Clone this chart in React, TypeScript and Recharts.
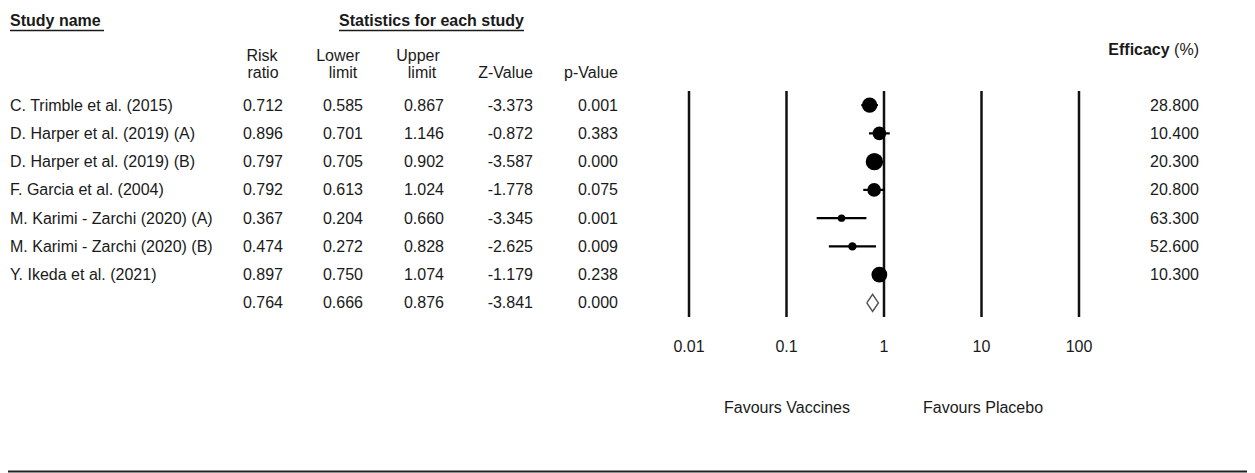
import { ScatterChart, Scatter, XAxis, YAxis, ZAxis, ErrorBar, ReferenceLine } from "recharts";

// study table
const studies = [
  "C. Trimble et al. (2015)",
  "D. Harper et al. (2019) (A)",
  "D. Harper et al. (2019) (B)",
  "F. Garcia et al. (2004)",
  "M. Karimi - Zarchi (2020) (A)",
  "M. Karimi - Zarchi (2020) (B)",
  "Y. Ikeda et al. (2021)",
];
const riskRatio = [0.712, 0.896, 0.797, 0.792, 0.367, 0.474, 0.897];
const lowerLimit = [0.585, 0.701, 0.705, 0.613, 0.204, 0.272, 0.75];
const upperLimit = [0.867, 1.146, 0.902, 1.024, 0.66, 0.828, 1.074];
const zValue = [-3.373, -0.872, -3.587, -1.778, -3.345, -2.625, -1.179];
const pValue = [0.001, 0.383, 0.0, 0.075, 0.001, 0.009, 0.238];
const efficacy = [28.8, 10.4, 20.3, 20.8, 63.3, 52.6, 10.3];
// relative weights
const weights = [18.6, 14.2, 23.6, 14.5, 4.3, 5.5, 19.2];

// pooled result
const summaryRR = 0.764;
const summaryLower = 0.666;
const summaryUpper = 0.876;
const summaryZ = -3.841;
const summaryP = 0.0;

const xTicks = [0.01, 0.1, 1, 10, 100];

const FONT = "'Liberation Sans', Arial, sans-serif";
const TEXT = "#1a1a1a";
const DIAMOND_HALF = 0.3;
const summaryRow = studies.length;

const studyData = studies.map((name, i) => ({
  row: i,
  rr: riskRatio[i],
  err: [riskRatio[i] - lowerLimit[i], upperLimit[i] - riskRatio[i]],
  weight: weights[i],
}));

const diamondData = [
  { rr: summaryLower, row: summaryRow },
  { rr: summaryRR, row: summaryRow - DIAMOND_HALF },
  { rr: summaryUpper, row: summaryRow },
  { rr: summaryRR, row: summaryRow + DIAMOND_HALF },
  { rr: summaryLower, row: summaryRow },
];

const rowTicks = [...studies.map((_, i) => i), summaryRow];

function RowTick(props: any) {
  const { y, payload } = props;
  const i = payload.value;
  const isSummary = i === summaryRow;
  const cells = isSummary
    ? [summaryRR, summaryLower, summaryUpper, summaryZ, summaryP]
    : [riskRatio[i], lowerLimit[i], upperLimit[i], zValue[i], pValue[i]];
  const rights = [283, 363, 444, 533, 618];
  return (
    <g fontFamily={FONT} fontSize={16} fill={TEXT}>
      {!isSummary && (
        <text x={10} y={y} dy="0.35em">
          {studies[i]}
        </text>
      )}
      {cells.map((v, k) => (
        <text key={k} x={rights[k]} y={y} dy="0.35em" textAnchor="end">
          {v.toFixed(3)}
        </text>
      ))}
      {!isSummary && (
        <text x={1199} y={y} dy="0.35em" textAnchor="end">
          {efficacy[i].toFixed(3)}
        </text>
      )}
    </g>
  );
}

function XTick(props: any) {
  const { x, payload } = props;
  return (
    <text x={x} y={352} textAnchor="middle" fontFamily={FONT} fontSize={16} fill={TEXT}>
      {String(payload.value)}
    </text>
  );
}

export default function App() {
  return (
    <div style={{ position: "absolute", left: 0, top: 0, width: 1255, height: 473, background: "#fff", fontFamily: FONT }}>
      <ScatterChart width={1255} height={473} margin={{ top: 91, right: 176, bottom: 126, left: 629 }}>
        <XAxis
          type="number"
          dataKey="rr"
          scale="log"
          domain={[0.01, 100]}
          ticks={xTicks}
          allowDataOverflow
          axisLine={false}
          tickLine={false}
          tick={<XTick />}
          height={30}
        />
        <YAxis
          type="number"
          dataKey="row"
          domain={[-0.5, summaryRow + 0.5]}
          ticks={rowTicks}
          interval={0}
          reversed
          allowDataOverflow
          axisLine={false}
          tickLine={false}
          tick={<RowTick />}
          width={60}
        />
        <ZAxis type="number" dataKey="weight" domain={[0, 23.6]} range={[0, 238]} />
        {xTicks.map((t) => (
          <ReferenceLine key={t} x={t} stroke="#111" strokeWidth={2.5} />
        ))}
        <Scatter data={studyData} fill="#000" shape="circle" isAnimationActive={false}>
          <ErrorBar dataKey="err" direction="x" width={0} stroke="#000" strokeWidth={2.2} />
        </Scatter>
        <Scatter
          data={diamondData}
          line={{ stroke: "#555", strokeWidth: 1.5, fill: "none" }}
          lineType="joint"
          fill="none"
          shape={() => <g />}
          isAnimationActive={false}
        />
      </ScatterChart>

      <svg
        width={1255}
        height={473}
        style={{ position: "absolute", left: 0, top: 0, pointerEvents: "none" }}
        fontFamily={FONT}
        fontSize={16}
        fill={TEXT}
      >
        <text x={10} y={26} fontWeight="bold">Study name</text>
        <line x1={10} x2={104} y1={30.5} y2={30.5} stroke={TEXT} strokeWidth={1.5} />
        <text x={431.5} y={26} fontWeight="bold" textAnchor="middle">Statistics for each study</text>
        <line x1={339} x2={524} y1={30.5} y2={30.5} stroke={TEXT} strokeWidth={1.5} />

        <text x={262} y={61} textAnchor="middle">Risk</text>
        <text x={263} y={78} textAnchor="middle">ratio</text>
        <text x={338} y={61} textAnchor="middle">Lower</text>
        <text x={343} y={78} textAnchor="middle">limit</text>
        <text x={418} y={61} textAnchor="middle">Upper</text>
        <text x={422} y={78} textAnchor="middle">limit</text>
        <text x={533} y={78} textAnchor="end">Z-Value</text>
        <text x={618} y={78} textAnchor="end">p-Value</text>

        <text x={1199} y={55} textAnchor="end">
          <tspan fontWeight="bold">Efficacy</tspan> (%)
        </text>

        <text x={787} y={413} textAnchor="middle">Favours Vaccines</text>
        <text x={983} y={413} textAnchor="middle">Favours Placebo</text>

        <line x1={8} x2={1247} y1={471.5} y2={471.5} stroke="#222" strokeWidth={2} />
      </svg>
    </div>
  );
}
